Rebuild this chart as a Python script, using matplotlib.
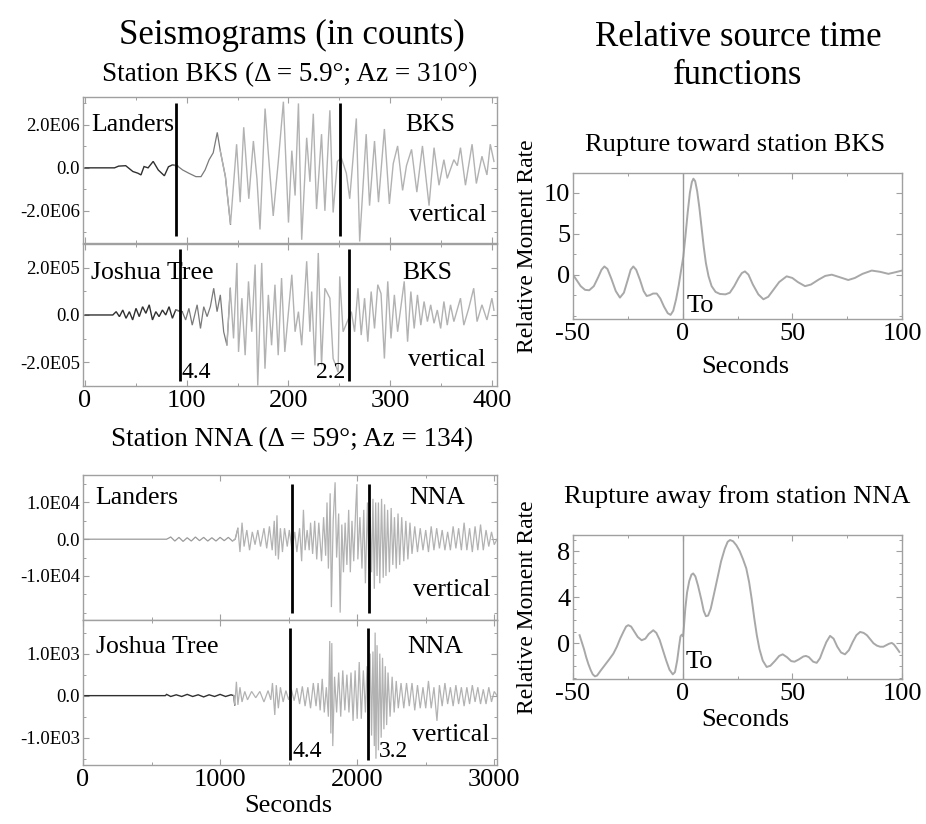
import numpy as np
import matplotlib
matplotlib.use("Agg")
import matplotlib.pyplot as plt
from matplotlib.ticker import MultipleLocator, FixedLocator, FixedFormatter

plt.rcParams['font.family'] = ['Liberation Serif', 'DejaVu Serif']

# ---------------- DATA ----------------
# Station BKS, Landers (counts, in units of 1e6), time in seconds
bks_landers_t = [0, 29, 33, 40, 47, 52, 55, 58, 62, 67, 72, 78, 82, 86, 91, 96, 102, 109, 114, 118,
                 122, 126, 130, 133, 138, 143, 149, 152.5, 156, 161, 165.5, 169, 172, 177, 180, 185,
                 190, 195, 200, 203.3, 206.5, 209.8, 213, 217.9, 221.1, 224.4, 227.6, 232.5, 235.8,
                 240.7, 243.9, 248.1, 252, 256.9, 260.2, 266.7, 270, 276.4, 279.7, 284.6, 288.5,
                 294.3, 299.2, 303, 307.3, 312.2, 316, 321, 326.2, 331.7, 338.2, 343.1, 348, 352.8,
                 356.1, 362.6, 366, 369.1, 374, 380.5, 384.7, 390.2, 395.1, 398.4, 402]
bks_landers_amp = [0, 0, 0.08, 0.1, -0.17, -0.25, -0.33, 0.06, 0.0, 0.3, -0.1, -0.37, 0.05, 0.14,
                   0.08, -0.1, -0.25, -0.41, -0.41, -0.1, 0.38, 0.7, 1.65, 0.78, -0.41, -2.63, 1.1,
                   -1.6, 1.89, -1.44, 1.25, -0.5, -2.87, 2.76, 0.8, -2.24, 0.3, 3.08, -2.55, 0.8,
                   -1.29, 3.0, -3.35, 1.4, -0.65, 2.52, -1.92, 1.57, -2.0, 2.68, -2.08, 0.3, 0.46,
                   -0.25, -1.44, 2.3, -3.43, 1.57, -1.76, 1.25, -1.6, 1.81, -1.68, 0.2, 1.02, -1.05,
                   0.1, 0.86, -1.13, 1.02, -1.76, 0.94, -0.81, 0.38, -0.49, 0.38, 0.1, 0.94, -0.81,
                   1.1, -0.73, 0.54, -0.33, 1.1, 0.3]

# Station BKS, Joshua Tree (counts, in units of 1e5)
bks_joshua_t = [0, 27.3, 30.6, 33.8, 37.1, 40.3, 43.6, 46.8, 50.1, 53.3, 56.6, 59.8, 63.1, 66.3,
                69.6, 72.8, 76.1, 79.3, 82.6, 85.9, 89.1, 95.6, 98.9, 102.1, 105.4, 110.2, 113.5,
                116.7, 120, 123.2, 126.5, 129.8, 133, 136.3, 139.5, 142.8, 146, 149.3, 150.9,
                154.2, 157.4, 160.7, 163.9, 167.2, 169.8, 173.7, 176.9, 180.2, 183.4, 186.7,
                189.9, 193.2, 196.4, 203.3, 206.5, 209.8, 213, 217.9, 221.1, 222.8, 226, 229.3,
                232.5, 235.8, 240.7, 243.9, 248.8, 250.4, 253.7, 261.8, 265, 268.3, 271.5, 274.8,
                278, 281.3, 284.6, 287.8, 291, 294.3, 297.6, 300.8, 304.1, 307.3, 313.8, 317.1,
                320.3, 323.6, 326.8, 330.1, 333.3, 336.6, 339.8, 343.1, 346.3, 349.6, 352.8,
                356.1, 359.3, 362.6, 369.1, 372.4, 377.2, 382.1, 385.4, 390.2, 395.1, 400, 402]
bks_joshua_amp = [0, 0, 0.14, -0.07, 0.21, -0.14, 0.14, -0.21, 0.28, -0.07, 0.35, 0.07, 0.43, -0.21,
                  0.14, -0.07, 0.21, 0.0, 0.35, -0.14, 0.21, 0.14, -0.21, 0.28, -0.43, 0.43, -0.57,
                  0.35, -0.07, 0.35, 1.13, 0.14, 0.85, -0.71, -1.28, 1.13, -0.99, 2.2, -1.56, 0.71,
                  -1.7, 1.42, -0.71, 2.13, -2.98, 2.2, -2.27, 0.85, -1.28, 1.28, -1.7, 1.56, -1.56,
                  1.7, -0.71, 0.14, -1.28, 2.27, -0.71, 0.99, -2.13, 2.62, -2.13, 1.13, 0.71,
                  -1.84, -2.41, 1.63, -0.71, 0.14, -0.71, 1.13, -0.85, 0.71, -1.13, 0.99, -0.57,
                  1.28, 0.9, -1.84, 1.42, -0.99, 0.85, -0.71, 1.42, -1.13, 0.99, -0.57, 0.85, -0.43,
                  0.57, -0.28, 0.43, -0.35, 0.21, -0.57, 0.57, -0.43, 0.43, -0.28, 0.71, -0.43,
                  0.28, 1.13, -0.28, 0.43, -0.21, 0.71, 0.2]

# Station NNA, Landers (counts, in units of 1e4)
nna_landers_t = [0, 600, 610, 640, 670, 700, 730, 760, 790, 820, 850, 880, 910, 940, 970, 1000, 1030,
                 1060, 1090, 1110, 1130, 1145, 1160, 1175, 1195, 1215, 1235, 1255, 1275, 1295, 1320,
                 1340, 1360, 1380, 1395, 1405, 1415, 1425, 1440, 1455, 1470, 1490, 1505, 1525, 1545,
                 1560, 1580, 1595, 1608, 1620, 1635, 1650, 1660, 1675, 1690, 1705, 1720, 1740, 1755,
                 1770, 1780, 1790, 1803, 1812, 1825, 1839, 1850, 1865, 1876, 1888, 1900, 1912, 1925,
                 1938, 1950, 1962, 1975, 1990, 1998, 2005, 2020, 2035, 2048, 2060, 2075, 2085, 2095,
                 2105, 2115, 2125, 2135, 2145, 2155, 2165, 2178, 2190, 2200, 2210, 2222, 2235, 2248,
                 2260, 2272, 2285, 2298, 2310, 2325, 2340, 2355, 2370, 2385, 2400, 2420, 2440, 2460,
                 2480, 2500, 2520, 2540, 2560, 2580, 2600, 2620, 2640, 2660, 2680, 2700, 2720, 2740,
                 2760, 2780, 2800, 2820, 2840, 2860, 2880, 2900, 2920, 2940, 2960, 2980, 3000, 3020]
nna_landers_amp = [0, 0, 0, 0.06, -0.05, 0.05, -0.06, 0.04, -0.05, 0.06, -0.04, 0.05, -0.05, 0.04,
                   -0.05, 0.05, -0.04, 0.05, -0.05, 0.0, 0.3, -0.35, 0.45, -0.2, 0.25, -0.3, 0.2,
                   -0.15, 0.25, -0.2, 0.3, -0.25, 0.35, -0.3, 0.5, -0.45, 0.65, -0.55, 0.3, -0.35,
                   0.3, -0.2, 0.25, -0.3, 0.2, -0.35, 0.3, -0.6, 0.8, -0.3, 0.25, -0.3, 0.45, -0.4,
                   0.5, -0.55, 0.45, -0.6, 0.6, -0.45, 1.0, -0.8, 1.25, -1.85, 0.5, 1.55, -0.5, 0.7,
                   -2.0, 0.4, -0.9, 0.45, -0.7, 0.8, -0.9, 0.5, -0.6, 0.9, 1.5, -0.55, 0.6, -0.8,
                   0.8, -1.2, 1.0, -0.8, 0.6, -0.9, 1.1, -1.35, 1.0, -1.0, 1.0, -1.2, 1.1, -1.05,
                   0.95, -1.0, 0.8, -0.9, 0.85, -0.7, 0.6, -0.8, 0.7, -0.7, 0.6, -0.6, 0.5, -0.55,
                   0.45, -0.4, 0.35, -0.35, 0.3, -0.3, 0.25, -0.35, 0.35, -0.3, 0.3, -0.25, 0.25,
                   -0.3, 0.2, -0.3, 0.35, -0.25, 0.3, -0.3, 0.45, -0.3, 0.3, -0.35, 0.35, -0.3, 0.4,
                   -0.3, 0.25, -0.2, 0.2, -0.15, 0.0]

# Station NNA, Joshua Tree (counts, in units of 1e3)
nna_joshua_t = [0, 600, 610, 640, 680, 720, 760, 800, 840, 880, 920, 960, 1000, 1040, 1080, 1100,
                1107, 1119, 1130, 1145, 1160, 1180, 1200, 1230, 1260, 1290, 1320, 1350, 1370, 1382,
                1399, 1410, 1425, 1440, 1460, 1480, 1500, 1520, 1540, 1560, 1580, 1600, 1620, 1640,
                1660, 1680, 1700, 1715, 1730, 1745, 1760, 1775, 1790, 1800, 1808, 1815, 1822, 1835,
                1850, 1865, 1880, 1895, 1910, 1925, 1940, 1955, 1970, 1985, 2000, 2015, 2030, 2045,
                2060, 2072, 2085, 2095, 2105, 2115, 2125, 2131, 2137, 2145, 2155, 2165, 2175, 2185,
                2195, 2205, 2215, 2225, 2240, 2255, 2270, 2285, 2300, 2320, 2340, 2360, 2380, 2400,
                2420, 2440, 2460, 2480, 2500, 2520, 2540, 2560, 2582, 2600, 2620, 2640, 2660, 2680,
                2700, 2720, 2740, 2760, 2780, 2800, 2820, 2840, 2860, 2880, 2900, 2920, 2940, 2960,
                2980, 3000, 3020]
nna_joshua_amp = [0, 0, 0.03, -0.02, 0.02, -0.02, 0.03, -0.02, 0.02, -0.03, 0.02, -0.02, 0.03, -0.02,
                  0.02, 0.0, -0.22, 0.33, -0.22, 0.2, -0.15, 0.1, -0.1, 0.1, -0.05, 0.1, -0.15, 0.12,
                  -0.1, 0.3, -0.46, 0.25, -0.3, 0.2, -0.15, 0.12, -0.1, 0.15, -0.12, 0.18, -0.2,
                  0.22, -0.25, 0.2, -0.3, 0.3, -0.25, 0.3, -0.35, 0.4, -0.4, 0.2, -0.5, 1.3, -0.9,
                  1.25, -1.2, 0.45, -0.4, 0.55, -0.5, 0.6, -0.35, 0.5, -0.4, 0.55, -0.6, 0.6, -0.55,
                  0.8, -0.55, 0.6, -0.4, 0.7, -0.8, 1.0, -0.95, 1.05, -1.2, 1.5, -1.5, 1.2, -1.3,
                  1.0, -1.0, 0.9, -0.8, 0.7, -0.7, 0.55, -0.5, 0.45, -0.4, 0.35, -0.3, 0.3, -0.3,
                  0.3, -0.25, 0.3, -0.35, 0.25, -0.3, 0.2, -0.3, 0.35, -0.3, 0.2, -0.6, 0.25, -0.25,
                  0.3, -0.2, 0.2, -0.25, 0.25, -0.2, 0.2, -0.25, 0.2, -0.2, 0.25, -0.15, 0.2, -0.2,
                  0.15, -0.2, 0.2, -0.15, 0.1, 0.0]

# group-velocity marker lines (seconds) and labels
bks_landers_marks = [89.4, 250.6]
bks_joshua_marks = [93.4, 259.5]
nna_landers_marks = [1525, 2088]
nna_joshua_marks = [1510, 2080]
bks_mark_labels = ["4.4", "2.2"]
nna_mark_labels = ["4.4", "3.2"]

# Relative source time functions
stf_bks_t = [-50, -48.5, -46.5, -44.5, -42.6, -40.5, -38.5, -37, -35.7, -34.3, -32.5, -30.5, -28.6,
             -26.8, -25, -23.7, -22.5, -21.2, -19.5, -17.8, -16.4, -15, -13.5, -11.8, -10.2, -8.5,
             -6.8, -5.5, -4.3, -3, -1.8, -0.8, 0.3, 1.3, 2.3, 3.3, 4.2, 4.9, 5.7, 6.6, 7.6, 8.6,
             9.6, 10.6, 11.8, 13.2, 15, 17, 19.5, 21.5, 23.5, 25.5, 27, 28.4, 30, 32, 34.5, 36.8,
             39, 41.5, 44, 47.4, 50, 52.5, 55.8, 58.5, 62, 65, 68, 71.5, 75.5, 78.5, 82, 86.2, 90,
             93.8, 97, 100]
stf_bks_y = [0.0, -0.6, -1.4, -1.85, -1.9, -1.4, -0.3, 0.6, 1.0, 0.7, -0.5, -2.0, -2.8, -2.2, -0.6,
             0.6, 1.0, 0.6, -0.6, -2.0, -2.6, -2.5, -2.3, -2.3, -2.9, -3.9, -4.7, -4.9, -4.4, -3.0,
             -1.3, 0.4, 2.2, 4.8, 7.6, 10.0, 11.3, 11.7, 11.4, 10.2, 8.2, 5.8, 3.4, 1.4, -0.2, -1.4,
             -2.1, -2.35, -2.4, -2.2, -1.4, -0.4, 0.2, 0.4, 0.0, -1.2, -2.4, -3.0, -2.7, -1.8, -0.9,
             -0.2, -0.4, -0.9, -1.4, -1.2, -0.6, -0.15, 0.0, -0.3, -0.65, -0.4, 0.1, 0.5, 0.35,
             0.1, 0.3, 0.5]
stf_nna_t = [-47, -46, -45, -44, -43, -42, -41, -40, -39, -37.5, -35.5, -33.5, -31.6, -30, -28.5, -27,
             -25.8, -24.8, -23.5, -22, -20.5, -18.7, -17, -15.5, -13.4, -12, -10.5, -9, -7.5, -6,
             -4.5, -3.5, -2.5, -1.6, -1.0, -0.4, 0.2, 0.6, 1.2, 2, 3, 4, 4.8, 5.8, 7, 8.5, 9.6, 10.6,
             11.6, 12.8, 14.2, 15.8, 17.5, 19.2, 20.5, 21.6, 23, 24.5, 26, 27.5, 29, 30.3, 31.5,
             32.7, 33.8, 35, 36.5, 38.3, 40, 42, 44, 45.6, 47.5, 49.5, 51, 53, 55, 56.2, 57.5, 59.5,
             61.1, 62.6, 64, 65.5, 67.2, 68.8, 70.5, 72.2, 74, 75.8, 77.5, 79.2, 80.9, 82.5, 84,
             85.5, 87, 88.5, 90, 91.5, 92.5, 94, 95.3, 96.3, 97.5, 98.8]
stf_nna_y = [0.7, 0.1, -0.5, -1.2, -1.8, -2.3, -2.7, -2.87, -2.8, -2.4, -1.9, -1.4, -0.9, -0.3, 0.4,
             1.0, 1.45, 1.57, 1.45, 1.0, 0.55, 0.26, 0.4, 0.8, 1.13, 0.9, 0.3, -0.6, -1.5, -2.3, -2.7,
             -2.5, -1.5, -0.2, 0.6, 0.75, 0.6, 1.5, 3.0, 4.4, 5.4, 5.95, 6.06, 5.8, 5.0, 3.8, 2.8,
             2.35, 2.4, 3.0, 4.2, 5.6, 7.1, 8.2, 8.8, 8.96, 8.85, 8.5, 8.0, 7.3, 6.5, 5.3, 3.8, 2.1,
             0.7, -0.5, -1.5, -2.06, -1.95, -1.55, -1.1, -0.96, -1.2, -1.55, -1.6, -1.4, -1.15,
             -1.1, -1.2, -1.6, -1.7, -1.3, -0.6, 0.1, 0.64, 0.4, -0.3, -0.8, -0.96, -0.6, 0.1, 0.7,
             0.98, 0.9, 0.7, 0.35, 0.0, -0.2, -0.3, -0.3, -0.2, -0.05, 0.03, -0.1, -0.4, -0.75]

bks_xticks = [0, 100, 200, 300, 400]
nna_xticks = [0, 1000, 2000, 3000]
stf_xticks = [-50, 0, 50, 100]
stf_xtick_labels = ["-50", "0", "50", "100"]
bks_landers_yticks = [-2.0e6, 0.0, 2.0e6]
bks_landers_ylabels = ["-2.0E06", "0.0", "2.0E06"]
bks_joshua_yticks = [-2.0e5, 0.0, 2.0e5]
bks_joshua_ylabels = ["-2.0E05", "0.0", "2.0E05"]
nna_landers_yticks = [-1.0e4, 0.0, 1.0e4]
nna_landers_ylabels = ["-1.0E04", "0.0", "1.0E04"]
nna_joshua_yticks = [-1.0e3, 0.0, 1.0e3]
nna_joshua_ylabels = ["-1.0E03", "0.0", "1.0E03"]
stf_bks_yticks = [0, 5, 10]
stf_nna_yticks = [0, 4, 8]

# ---------------- FIGURE ----------------
fig = plt.figure(figsize=(9.26, 8.24), dpi=100)
SPINE = '#a0a0a0'
LIGHT = '#b2b2b2'
MID = '#7a7a7a'
DARK = '#303030'


def style(ax, ytick_size=13.5, xtick_size=19):
    for s in ax.spines.values():
        s.set_color(SPINE)
        s.set_linewidth(1.0)
    ax.tick_params(which='both', direction='in', top=True, right=True, color=SPINE)
    ax.tick_params(which='major', length=4, width=0.8)
    ax.tick_params(which='minor', length=2.5, width=0.7)
    ax.tick_params(axis='y', labelsize=ytick_size, pad=2)
    ax.tick_params(axis='x', labelsize=xtick_size, pad=3)


def draw_trace(ax, t, amp, scale, segments):
    t = np.asarray(t, dtype=float)
    a = np.asarray(amp, dtype=float) * scale
    for lo, hi, col, lw in segments:
        idx = np.where((t >= lo) & (t <= hi))[0]
        if len(idx) == 0:
            continue
        i0 = max(idx[0] - 1, 0)
        i1 = min(idx[-1] + 2, len(t))
        ax.plot(t[i0:i1], a[i0:i1], color=col, lw=lw, solid_joinstyle='miter')


L = 83 / 926
W = 414 / 926
ax1 = fig.add_axes([L, 0.7051, W, 0.1772])
ax2 = fig.add_axes([L, 0.5316, W, 0.1723])
ax3 = fig.add_axes([L, 0.2476, W, 0.1760])
ax4 = fig.add_axes([L, 0.0716, W, 0.1760])

# BKS Landers
draw_trace(ax1, bks_landers_t, bks_landers_amp, 1e6,
           [(0, 90, DARK, 1.0), (90, 138, MID, 0.9), (138, 410, LIGHT, 1.0)])
ax1.set_xlim(-2, 405)
ax1.set_ylim(-3.5e6, 3.3e6)
ax1.vlines(bks_landers_marks, -3.19e6, 3.0e6, color='black', lw=2.0)
# BKS Joshua Tree
draw_trace(ax2, bks_joshua_t, bks_joshua_amp, 1e5,
           [(0, 92, DARK, 1.0), (92, 140, MID, 0.9), (140, 410, LIGHT, 1.0)])
ax2.set_xlim(-2, 405)
ax2.set_ylim(-3.0e5, 3.0e5)
ax2.vlines(bks_joshua_marks, -2.77e5, 2.77e5, color='black', lw=2.0)
ax2.text(bks_joshua_marks[0] + 1.5, -2.41e5, bks_mark_labels[0], fontsize=17, va='center', ha='left')
ax2.text(bks_joshua_marks[1] - 4, -2.41e5, bks_mark_labels[1], fontsize=17, va='center', ha='right')

# NNA Landers
draw_trace(ax3, nna_landers_t, nna_landers_amp, 1e4,
           [(0, 1110, '#9a9a9a', 0.9), (1110, 3100, LIGHT, 0.9)])
ax3.set_xlim(0, 3020)
ax3.set_ylim(-2.2e4, 1.75e4)
ax3.vlines(nna_landers_marks, -2.0e4, 1.51e4, color='black', lw=2.0)
# NNA Joshua
draw_trace(ax4, nna_joshua_t, nna_joshua_amp, 1e3,
           [(0, 1105, DARK, 1.0), (1105, 3100, LIGHT, 0.9)])
ax4.set_xlim(0, 3020)
ax4.set_ylim(-1.65e3, 1.8e3)
ax4.vlines(nna_joshua_marks, -1.52e3, 1.62e3, color='black', lw=2.0)
ax4.text(nna_joshua_marks[0] + 15, -1.33e3, nna_mark_labels[0], fontsize=17, va='center', ha='left')
ax4.text(nna_joshua_marks[1] + 80, -1.33e3, nna_mark_labels[1], fontsize=17, va='center', ha='left')

for ax, yt, yl, mn in [(ax1, bks_landers_yticks, bks_landers_ylabels, 1e6),
                       (ax2, bks_joshua_yticks, bks_joshua_ylabels, 1e5),
                       (ax3, nna_landers_yticks, nna_landers_ylabels, 5e3),
                       (ax4, nna_joshua_yticks, nna_joshua_ylabels, 5e2)]:
    style(ax)
    ax.yaxis.set_major_locator(FixedLocator(yt))
    ax.yaxis.set_major_formatter(FixedFormatter(yl))
    ax.yaxis.set_minor_locator(MultipleLocator(mn))

for ax in (ax1, ax2):
    ax.xaxis.set_major_locator(FixedLocator(bks_xticks))
    ax.xaxis.set_minor_locator(MultipleLocator(50))
for ax in (ax3, ax4):
    ax.xaxis.set_major_locator(FixedLocator(nna_xticks))
    ax.xaxis.set_minor_locator(MultipleLocator(500))
ax1.tick_params(axis='x', labelbottom=False)
ax3.tick_params(axis='x', labelbottom=False)

LBL = 18.5
ax1.text(0.019, 0.808, "Landers", transform=ax1.transAxes, fontsize=LBL, va='center', ha='left')
ax1.text(0.899, 0.808, "BKS", transform=ax1.transAxes, fontsize=LBL, va='center', ha='right')
ax1.text(0.975, 0.192, "vertical", transform=ax1.transAxes, fontsize=LBL, va='center', ha='right')
ax2.text(0.019, 0.798, "Joshua Tree", transform=ax2.transAxes, fontsize=LBL, va='center', ha='left')
ax2.text(0.893, 0.798, "BKS", transform=ax2.transAxes, fontsize=LBL, va='center', ha='right')
ax2.text(0.971, 0.183, "vertical", transform=ax2.transAxes, fontsize=LBL, va='center', ha='right')
ax3.text(0.029, 0.841, "Landers", transform=ax3.transAxes, fontsize=LBL, va='center', ha='left')
ax3.text(0.923, 0.841, "NNA", transform=ax3.transAxes, fontsize=LBL, va='center', ha='right')
ax3.text(0.983, 0.207, "vertical", transform=ax3.transAxes, fontsize=LBL, va='center', ha='right')
ax4.text(0.031, 0.816, "Joshua Tree", transform=ax4.transAxes, fontsize=LBL, va='center', ha='left')
ax4.text(0.918, 0.816, "NNA", transform=ax4.transAxes, fontsize=LBL, va='center', ha='right')
ax4.text(0.981, 0.207, "vertical", transform=ax4.transAxes, fontsize=LBL, va='center', ha='right')

# left titles
fig.text(292 / 926, 1 - 35 / 824, "Seismograms (in counts)", fontsize=25, ha='center', va='center')
fig.text(290 / 926, 1 - 75 / 824, "Station BKS (\u0394 = 5.9\u00b0; Az = 310\u00b0)", fontsize=19.5,
         ha='center', va='center')
fig.text(292 / 926, 1 - 440 / 824, "Station NNA (\u0394 = 59\u00b0; Az = 134)", fontsize=19.5,
         ha='center', va='center')
fig.text(288 / 926, 1 - 806 / 824, "Seconds", fontsize=19, ha='center', va='center')

# ---------------- right panels ----------------
RL = 573 / 926
RW = 329 / 926
axr1 = fig.add_axes([RL, 0.6129, RW, 0.1772])
axr2 = fig.add_axes([RL, 0.1760, RW, 0.1748])
CURVE = '#a8a8a8'

axr1.plot(stf_bks_t, stf_bks_y, color=CURVE, lw=1.4)
axr1.axvline(0, color='#9a9a9a', lw=1.0)
axr1.set_xlim(-50, 100)
axr1.set_ylim(-5.4, 12.4)
axr1.yaxis.set_major_locator(FixedLocator(stf_bks_yticks))
axr1.yaxis.set_minor_locator(MultipleLocator(2.5))
axr1.text(1.8, -3.87, "To", fontsize=19, ha='left', va='center')

axr2.plot(stf_nna_t, stf_nna_y, color=CURVE, lw=1.4)
axr2.axvline(0.3, color='#9a9a9a', lw=1.0)
axr2.set_xlim(-50, 100)
axr2.set_ylim(-3.1, 9.4)
axr2.yaxis.set_major_locator(FixedLocator(stf_nna_yticks))
axr2.yaxis.set_minor_locator(MultipleLocator(1))
axr2.text(1.5, -1.62, "To", fontsize=19, ha='left', va='center')

for ax in (axr1, axr2):
    style(ax, ytick_size=19, xtick_size=19)
    ax.xaxis.set_major_locator(FixedLocator(stf_xticks))
    ax.xaxis.set_major_formatter(FixedFormatter(stf_xtick_labels))
    ax.xaxis.set_minor_locator(MultipleLocator(25))
    ax.set_ylabel("Relative Moment Rate", fontsize=17)
    ax.yaxis.set_label_coords(-0.105, 0.5)

fig.text(738 / 926, 1 - 38 / 824, "Relative source time", fontsize=25, ha='center', va='center')
fig.text(738 / 926, 1 - 75 / 824, "functions", fontsize=25, ha='center', va='center')
fig.text(735 / 926, 1 - 145 / 824, "Rupture toward station BKS", fontsize=19, ha='center', va='center')
fig.text(737 / 926, 1 - 497 / 824, "Rupture away from station NNA", fontsize=19, ha='center', va='center')
fig.text(745 / 926, 1 - 367 / 824, "Seconds", fontsize=19, ha='center', va='center')
fig.text(745 / 926, 1 - 720 / 824, "Seconds", fontsize=19, ha='center', va='center')

fig.savefig("out.png", dpi=100, facecolor='white')
